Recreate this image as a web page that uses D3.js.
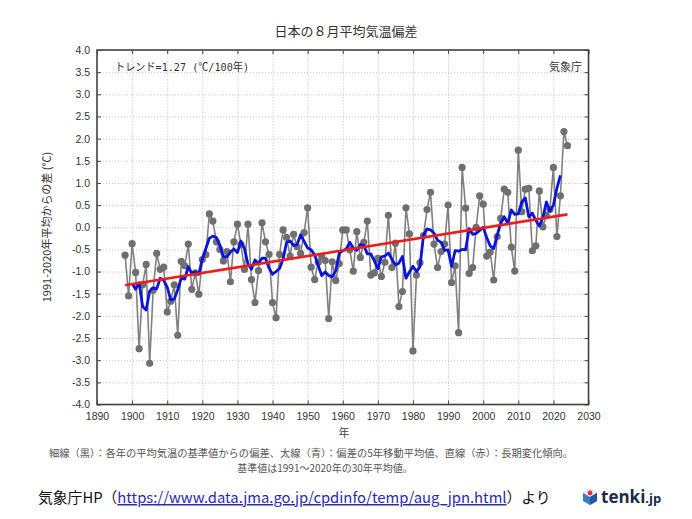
<!DOCTYPE html>
<html><head><meta charset="utf-8">
<script src="https://cdn.jsdelivr.net/npm/d3@7"></script>
<style>body{margin:0;background:#fff;} svg{display:block}</style>
</head><body><svg id="c" width="692" height="519"></svg>
<script>
// ---- data ----
const firstYear = 1898;
const anomalies = [
 -0.63,-1.55,-0.37,-1.02,-2.74,-1.30,-0.84,-3.07,-1.42,-0.59, // 1898-1907
 -0.95,-0.90,-1.91,-1.67,-1.30,-2.44,-0.77,-0.87,-0.38,-1.40, // 1908-1917
 -1.03,-1.51,-0.73,-0.62, 0.30, 0.14,-0.33,-0.50,-0.76,-0.55, // 1918-1927
 -1.23,-0.33, 0.07,-0.39,-0.95, 0.07,-1.18,-1.70,-0.98, 0.10, // 1928-1937
 -0.33,-0.61,-1.70,-2.04,-0.61,-0.06,-0.23,-0.65,-0.16,-0.44, // 1938-1947
 -0.59,-0.12, 0.44,-0.90,-1.18,-0.79,-0.66,-0.75,-2.06,-0.78, // 1948-1957
 -1.20,-0.82,-0.06,-0.06,-0.51,-0.99,-0.10,-0.68,-0.34, 0.14, // 1958-1967
 -1.08,-1.03,-0.70,-1.11,-0.79, 0.27,-0.91,-0.36,-1.79,-1.45, // 1968-1977
  0.44,-0.15,-2.79,-1.08,-0.80,-0.19, 0.40, 0.79,-0.38,-0.91, // 1978-1987
 -0.55,-0.38, 0.50,-1.25,-0.87,-2.38, 1.35, 0.43,-1.04,-0.91, // 1988-1997
  0.00, 0.71, 0.52,-0.65,-0.56,-1.19,-0.21, 0.20, 0.86, 0.79, // 1998-2007
 -0.45,-0.99, 1.74, 0.35, 0.86, 0.88,-0.53,-0.42, 0.82, 0.01, // 2008-2017
  0.27, 0.40, 1.35,-0.21, 0.71, 2.16, 1.84                    // 2018-2024
];
const maStartYear = 1900;
const movingAvg = [
 -1.26,-1.40,-1.25,-1.79,-1.87,-1.44,-1.37,-1.39,-1.15,-1.20, // 1900-1909
 -1.35,-1.64,-1.62,-1.41,-1.15,-1.17,-0.89,-1.04,-1.01,-1.06, // 1910-1919
 -0.72,-0.48,-0.25,-0.20,-0.23,-0.40,-0.67,-0.67,-0.56,-0.49, // 1920-1929
 -0.57,-0.31,-0.48,-0.83,-0.95,-0.74,-0.82,-0.70,-0.70,-0.92, // 1930-1939
 -1.06,-1.00,-0.93,-0.72,-0.34,-0.31,-0.41,-0.39,-0.17,-0.32, // 1940-1949
 -0.47,-0.51,-0.62,-0.86,-1.09,-1.01,-1.09,-1.12,-0.98,-0.58, // 1950-1959
 -0.53,-0.49,-0.34,-0.47,-0.52,-0.39,-0.41,-0.60,-0.60,-0.76, // 1960-1969
 -0.94,-0.67,-0.65,-0.58,-0.72,-0.85,-0.81,-0.66,-1.15,-1.01, // 1970-1979
 -0.88,-1.00,-0.89,-0.18,-0.04,-0.06,-0.13,-0.29,-0.34,-0.52, // 1980-1989
 -0.51,-0.88,-0.53,-0.54,-0.50,-0.51,-0.03,-0.16,-0.14,-0.07, // 1990-1999
  0.00,-0.23,-0.42,-0.48,-0.18, 0.09, 0.24, 0.08, 0.39, 0.29, // 2000-2009
  0.30, 0.57, 0.66, 0.23, 0.32, 0.15, 0.03, 0.22, 0.57, 0.36, // 2010-2019
  0.50, 0.88, 1.17                                           // 2020-2022
];
const trendYears = [1898, 2024];
const trendValues = [-1.31, 0.29];
const xTicks = [1890,1900,1910,1920,1930,1940,1950,1960,1970,1980,1990,2000,2010,2020,2030];
const yTicks = [-4.0,-3.5,-3.0,-2.5,-2.0,-1.5,-1.0,-0.5,0.0,0.5,1.0,1.5,2.0,2.5,3.0,3.5,4.0];

// ---- layout ----
const svg = d3.select("#c");
const L = 97, R = 588.5, T = 50, B = 404.5;
const x = d3.scaleLinear().domain([1890, 2030]).range([L, R]);
const y = d3.scaleLinear().domain([-4, 4]).range([B, T]);
const latin = "'Liberation Sans', Arial, sans-serif";
const jp = "'Noto Sans CJK JP', sans-serif";

// grid
const grid = svg.append("g");
grid.append("g").attr("transform", `translate(0,${B})`)
  .call(d3.axisBottom(x).tickValues(xTicks).tickSize(-(B - T)).tickFormat(""))
  .call(g => g.select(".domain").remove());
grid.append("g").attr("transform", `translate(${L},0)`)
  .call(d3.axisLeft(y).tickValues(yTicks).tickSize(-(R - L)).tickFormat(""))
  .call(g => g.select(".domain").remove());
grid.selectAll("line").attr("stroke", "#b8b8b8").attr("stroke-width", 0.8).attr("stroke-dasharray", "1.2,1.8");

// axes with inward ticks
const fmt = d => d.toFixed(1);
function styleAxis(g){
  g.select(".domain").remove();
  g.selectAll("line").attr("stroke", "#444").attr("stroke-width", 1);
  g.selectAll("text").attr("fill", "#333").style("font-family", latin).style("font-size", "10.5px");
}
svg.append("g").attr("transform", `translate(${L},0)`)
  .call(d3.axisLeft(y).tickValues(yTicks).tickFormat(fmt).tickSizeInner(-4).tickSizeOuter(0).tickPadding(7))
  .call(styleAxis);
svg.append("g").attr("transform", `translate(${R},0)`)
  .call(d3.axisRight(y).tickValues(yTicks).tickFormat("").tickSizeInner(-4).tickSizeOuter(0))
  .call(styleAxis);
svg.append("g").attr("transform", `translate(0,${B})`)
  .call(d3.axisBottom(x).tickValues(xTicks).tickFormat(d3.format("d")).tickSizeInner(-4).tickSizeOuter(0).tickPadding(8))
  .call(styleAxis);
svg.append("g").attr("transform", `translate(0,${T})`)
  .call(d3.axisTop(x).tickValues(xTicks).tickFormat("").tickSizeInner(-4).tickSizeOuter(0))
  .call(styleAxis);

// frame
svg.append("rect").attr("x", L).attr("y", T).attr("width", R - L).attr("height", B - T)
  .attr("fill", "none").attr("stroke", "#444").attr("stroke-width", 1.6);

// series
const pts = anomalies.map((v, i) => ({year: firstYear + i, v}));
const ma = movingAvg.map((v, i) => ({year: maStartYear + i, v}));
const trend = trendYears.map((yr, i) => ({year: yr, v: trendValues[i]}));
const line = d3.line().x(d => x(d.year)).y(d => y(d.v));

svg.append("path").datum(pts).attr("d", line).attr("fill", "none")
  .attr("stroke", "#808080").attr("stroke-width", 1.6);
svg.append("g").selectAll("circle").data(pts).join("circle")
  .attr("cx", d => x(d.year)).attr("cy", d => y(d.v)).attr("r", 3.6)
  .attr("fill", "#6f6f6f");
svg.append("path").datum(ma).attr("d", line).attr("fill", "none")
  .attr("stroke", "#0a14d8").attr("stroke-width", 2.8).attr("stroke-linejoin", "round");
svg.append("path").datum(trend).attr("d", line).attr("fill", "none")
  .attr("stroke", "#ee1c1c").attr("stroke-width", 2.6);

// texts
svg.append("text").attr("x", 346).attr("y", 36).attr("text-anchor", "middle")
  .style("font-family", jp).style("font-size", "13px").attr("fill", "#333")
  .text("日本の８月平均気温偏差");
svg.append("text").attr("x", 115).attr("y", 71)
  .style("font-family", "'DejaVu Sans Mono', " + jp).style("font-size", "11px").attr("fill", "#333")
  .attr("textLength", 134).attr("lengthAdjust", "spacingAndGlyphs")
  .text("トレンド=1.27 (℃/100年)");
svg.append("text").attr("x", 582).attr("y", 71).attr("text-anchor", "end")
  .style("font-family", jp).style("font-size", "11px").attr("fill", "#333")
  .text("気象庁");
svg.append("text").attr("transform", "translate(51,227) rotate(-90)").attr("text-anchor", "middle")
  .style("font-family", jp).style("font-size", "11px").attr("fill", "#333")
  .text("1991-2020年平均からの差 (℃)");
svg.append("text").attr("x", 344).attr("y", 437).attr("text-anchor", "middle")
  .style("font-family", jp).style("font-size", "11px").attr("fill", "#444")
  .text("年");
svg.append("text").attr("x", 311).attr("y", 457).attr("text-anchor", "middle")
  .style("font-family", jp).style("font-size", "10px").attr("fill", "#555")
  .attr("textLength", 524).attr("lengthAdjust", "spacingAndGlyphs")
  .text("細線（黒）：各年の平均気温の基準値からの偏差、太線（青）：偏差の5年移動平均値、直線（赤）：長期変化傾向。");
svg.append("text").attr("x", 325).attr("y", 472).attr("text-anchor", "middle")
  .style("font-family", jp).style("font-size", "10px").attr("fill", "#555")
  .text("基準値は1991～2020年の30年平均値。");

// source line (font size fitted to the reference width)
const src = svg.append("text").attr("x", 38).attr("y", 503)
  .style("font-family", jp).style("font-size", "16px").attr("fill", "#111");
src.append("tspan").text("気象庁HP（");
src.append("tspan").attr("fill", "#2a2ab0")
  .style("text-decoration", "underline")
  .text("https://www.data.jma.go.jp/cpdinfo/temp/aug_jpn.html");
src.append("tspan").text("）より");
const w = src.node().getComputedTextLength();
src.style("font-size", (16 * 513 / w).toFixed(2) + "px");

// tenki.jp logo
const logo = svg.append("g").attr("transform", "translate(590,497)");
logo.append("path").attr("d", "M0,-8 L7,-4 L7,4 L0,8 L-7,4 L-7,-4 Z").attr("fill", "#3a78c8");
logo.append("path").attr("d", "M0,-8 L7,-4 L0,0 L-7,-4 Z").attr("fill", "#e8f0fa");
logo.append("circle").attr("cx", 0).attr("cy", -4).attr("r", 2.4).attr("fill", "#e03030");
logo.append("path").attr("d", "M0,0 L7,-4 L7,4 L0,8 Z").attr("fill", "#1f5aa8");
svg.append("text").attr("x", 601).attr("y", 503)
  .style("font-family", "'Open Sans', 'Liberation Sans', sans-serif").style("font-weight", "700")
  .style("font-size", "17px").attr("fill", "#1d2a4a")
  .text("tenki").append("tspan").style("font-size", "13px").text(".jp");
</script></body></html>
